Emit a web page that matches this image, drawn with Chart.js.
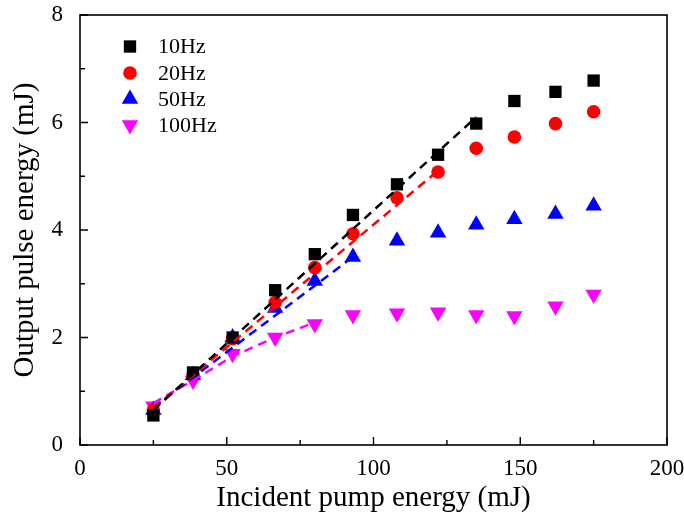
<!DOCTYPE html>
<html lang="en">
<head>
    <meta charset="UTF-8">
    <title>Output pulse energy vs incident pump energy</title>
    <script src="https://cdn.jsdelivr.net/npm/chart.js"></script>
    <style>
        html, body { margin: 0; padding: 0; background: #fff; }
        #wrap { width: 684px; height: 516px; }
    </style>
</head>
<body>
    <div id="wrap"><canvas id="energy-chart" width="684" height="516"></canvas></div>

    <script>
        // pump energy (mJ)
        const pumpEnergy = [25, 38.5, 52, 66.5, 80, 93, 108, 122, 135, 148, 162, 175];
        // output pulse energy (mJ)
        const out10Hz = [0.55, 1.35, 2.0, 2.88, 3.55, 4.28, 4.85, 5.4, 5.98, 6.4, 6.57, 6.78];
        const out20Hz = [0.65, 1.3, 1.98, 2.65, 3.3, 3.93, 4.6, 5.08, 5.52, 5.73, 5.98, 6.2];
        const out50Hz = [0.65, 1.3, 2.0, 2.55, 3.05, 3.5, 3.8, 3.95, 4.1, 4.2, 4.3, 4.45];
        const out100Hz = [0.72, 1.2, 1.7, 2.0, 2.25, 2.42, 2.45, 2.47, 2.42, 2.4, 2.58, 2.8];

        // dashed linear fits
        const fit10X = [25, 135];
        const fit10Y = [0.65, 6.1];
        const fit20X = [25, 121.5];
        const fit20Y = [0.68, 5.08];
        const fit50X = [25, 92.5];
        const fit50Y = [0.7, 3.48];
        const fit100X = [25, 38.5, 52, 66.5, 80];
        const fit100Y = [0.78, 1.2, 1.65, 2.0, 2.28];

        const seriesLabels = ['10Hz', '20Hz', '50Hz', '100Hz'];
        const xTicks = [0, 50, 100, 150, 200];
        const yTicks = [0, 2, 4, 6, 8];

        const serif = "'Liberation Serif', 'Times New Roman', serif";

        function pts(xs, ys) {
            return xs.map((x, i) => ({ x: x, y: ys[i] }));
        }

        function fitLine(xs, ys, color) {
            return {
                type: 'line',
                data: pts(xs, ys),
                borderColor: color,
                borderWidth: 2.5,
                borderDash: [9, 6],
                pointRadius: 0,
                fill: false,
                tension: 0
            };
        }

        const markers = [
            { data: out10Hz, color: '#000000', style: 'rect', radius: 8.7, rotation: 0 },
            { data: out20Hz, color: '#ff0000', style: 'circle', radius: 6.8, rotation: 0 },
            { data: out50Hz, color: '#0000ff', style: 'triangle', radius: 9.5, rotation: 0 },
            { data: out100Hz, color: '#ff00ff', style: 'triangle', radius: 9.5, rotation: 180 }
        ];

        const datasets = [
            fitLine(fit10X, fit10Y, '#000000'),
            fitLine(fit20X, fit20Y, '#ff0000'),
            fitLine(fit50X, fit50Y, '#0000ff'),
            fitLine(fit100X, fit100Y, '#ff00ff')
        ];
        markers.forEach((m, i) => {
            datasets.push({
                label: seriesLabels[i],
                data: pts(pumpEnergy, m.data),
                backgroundColor: m.color,
                borderColor: m.color,
                borderWidth: 0,
                pointStyle: m.style,
                pointRadius: m.radius,
                pointHoverRadius: m.radius,
                rotation: m.rotation
            });
        });

        // box, inward ticks and legend
        const framePlugin = {
            id: 'frame',
            afterDraw(chart) {
                const ctx = chart.ctx;
                const a = chart.chartArea;
                const xs = chart.scales.x;
                const ys = chart.scales.y;
                ctx.save();
                ctx.strokeStyle = '#000';
                ctx.lineWidth = 1.6;
                ctx.strokeRect(a.left, a.top, a.right - a.left, a.bottom - a.top);

                ctx.lineWidth = 1.4;
                ctx.beginPath();
                for (let v = 0; v <= 200; v += 25) {
                    const px = xs.getPixelForValue(v);
                    const len = v % 50 === 0 ? 8 : 5;
                    ctx.moveTo(px, a.bottom);
                    ctx.lineTo(px, a.bottom - len);
                }
                for (let v = 0; v <= 8; v += 1) {
                    const py = ys.getPixelForValue(v);
                    const len = v % 2 === 0 ? 8 : 5;
                    ctx.moveTo(a.left, py);
                    ctx.lineTo(a.left + len, py);
                }
                ctx.stroke();

                // legend
                ctx.font = '22px ' + serif;
                ctx.textAlign = 'left';
                ctx.textBaseline = 'middle';
                const rowY = [46.5, 73, 99, 125];
                markers.forEach((m, i) => {
                    ctx.fillStyle = m.color;
                    ctx.strokeStyle = m.color;
                    Chart.helpers.drawPoint(ctx, {
                        pointStyle: m.style,
                        radius: m.radius,
                        rotation: m.rotation,
                        borderWidth: 0
                    }, 130, rowY[i]);
                    ctx.fillStyle = '#000';
                    ctx.fillText(seriesLabels[i], 158, rowY[i] + 1);
                });
                ctx.restore();
            }
        };

        new Chart(document.getElementById('energy-chart'), {
            type: 'scatter',
            data: { datasets: datasets },
            options: {
                responsive: false,
                animation: false,
                layout: { padding: { top: 15, right: 17, left: 0, bottom: 0 } },
                plugins: {
                    legend: { display: false },
                    tooltip: { enabled: false }
                },
                scales: {
                    x: {
                        type: 'linear',
                        min: 0,
                        max: 200,
                        afterFit: s => {
                            s.height = 71;
                            s.paddingLeft = 0;
                            s.paddingRight = 0;
                        },
                        afterBuildTicks: s => { s.ticks = xTicks.map(v => ({ value: v })); },
                        grid: { display: false },
                        border: { display: false },
                        ticks: {
                            color: '#000',
                            padding: 2,
                            maxRotation: 0,
                            font: { family: serif, size: 23 }
                        },
                        title: {
                            display: true,
                            text: 'Incident pump energy (mJ)',
                            color: '#000',
                            font: { family: serif, size: 29 },
                            padding: { top: 0, bottom: 0 }
                        }
                    },
                    y: {
                        type: 'linear',
                        min: 0,
                        max: 8,
                        afterFit: s => {
                            s.width = 80;
                            s.paddingTop = 0;
                            s.paddingBottom = 0;
                        },
                        afterBuildTicks: s => { s.ticks = yTicks.map(v => ({ value: v })); },
                        grid: { display: false },
                        border: { display: false },
                        ticks: {
                            color: '#000',
                            padding: 9,
                            font: { family: serif, size: 23 }
                        },
                        title: {
                            display: true,
                            text: 'Output pulse energy (mJ)',
                            color: '#000',
                            font: { family: serif, size: 29 },
                            padding: { top: 8, bottom: 0 }
                        }
                    }
                }
            },
            plugins: [framePlugin]
        });
    </script>
</body>
</html>
